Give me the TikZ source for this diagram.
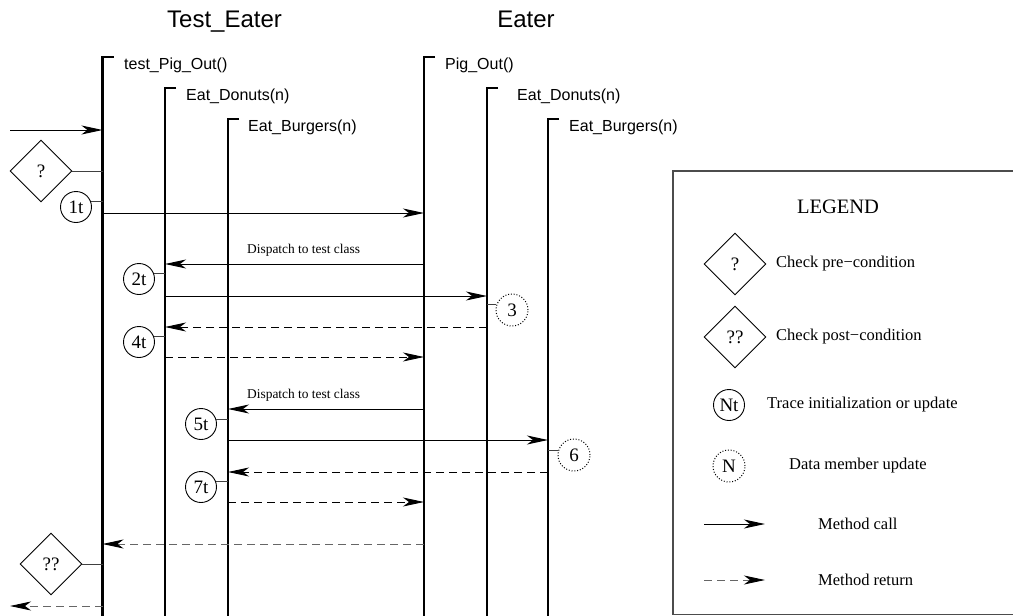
\documentclass[tikz,border=0pt]{standalone}
\usepackage{fontspec}
\setmainfont{Liberation Serif}
\setsansfont{Liberation Sans}
\usetikzlibrary{arrows.meta,shapes.geometric,calc}

\tikzset{
  x=1pt, y=-1pt,
  life/.style={line width=2.2pt, line join=miter, line cap=butt},
  tip/.style={-{Stealth[length=21pt,width=9pt,inset=6pt]}},
  call/.style={tip, line width=1pt},
  ret/.style={tip, line width=0.9pt, dash pattern=on 8pt off 5pt},
  retgray/.style={ret, draw=black!60, -{Stealth[length=21pt,width=9pt,inset=6pt,fill=black,color=black]}},
  link/.style={line width=0.9pt, draw=black!75},
  trace/.style={circle, draw, line width=0.9pt, minimum size=31pt, inner sep=0pt,
    font=\fontsize{19}{22}\selectfont},
  datum/.style={circle, draw, line width=1pt, dash pattern=on 1pt off 1.8pt,
    minimum size=32pt, inner sep=0pt, font=\fontsize{19}{22}\selectfont},
  check/.style={diamond, draw, line width=0.9pt, minimum width=62pt, minimum height=62pt,
    inner sep=0pt, font=\fontsize{19}{22}\selectfont},
  title/.style={anchor=base, inner sep=0pt, font=\sffamily\fontsize{24}{28}\selectfont},
  method/.style={anchor=base west, inner sep=0pt, font=\sffamily\fontsize{16}{19}\selectfont},
  note/.style={anchor=west, inner sep=0pt, font=\fontsize{13.4}{16}\selectfont},
  legtext/.style={anchor=west, inner sep=0pt, font=\fontsize{16.5}{20}\selectfont},
}

\begin{document}
\begin{tikzpicture}
\useasboundingbox (0,0) rectangle (1013,616);

% class titles
\node[title] (ttest) at (224.5,27) {Test\_Eater};
\node[title] (teater) at (526,27) {Eater};

% lifeline tops
\coordinate (tP) at (102.5,57);
\coordinate (tD) at (165,88);
\coordinate (tB) at (228,119);
\coordinate (eP) at (424,57);
\coordinate (eD) at (487,88);
\coordinate (eB) at (548,119);

% lifelines with their top ticks
\foreach \c in {tP,tD,tB,eP,eD,eB}{
  \draw[life] ($(\c)+(11,0)$) -- (\c) -- (\c |- 0,625);
}

% method names
\node[method] (ntP) at (124,69) {test\_Pig\_Out()};
\node[method] (ntD) at (186,100) {Eat\_Donuts(n)};
\node[method] (ntB) at (248,131) {Eat\_Burgers(n)};
\node[method] (neP) at (445,69) {Pig\_Out()};
\node[method] (neD) at (517,100) {Eat\_Donuts(n)};
\node[method] (neB) at (569,131) {Eat\_Burgers(n)};

% incoming call and pre-condition
\coordinate (in) at (10,130);
\draw[call] (in) -- (tP |- in);
\node[check] (pre) at (41,171) {?};
\draw[link] (pre.east) -- (tP |- pre.east);

% trace 1t and call to Pig_Out
\node[trace] (c1) at (76,207) {1t};
\draw[link] (c1.19) -- (tP |- c1.19);
\draw[call] (tP |- 0,213) -- (eP |- 0,213);

% dispatch to test Eat_Donuts
\draw[call] (eP |- 0,264) -- (tD |- 0,264);
\node[note] (dsp1) at (247,250) {Dispatch to test class};
\node[trace] (c2) at (139,279) {2t};
\draw[link] (c2.19) -- (tD |- c2.19);
\draw[call] (tD |- 0,296) -- (eD |- 0,296);
\node[datum] (c3) at (512,310) {3};
\draw[link] (c3.161) -- (eD |- c3.161);
\draw[ret] (eD |- 0,327) -- (tD |- 0,327);
\node[trace] (c4) at (139,342) {4t};
\draw[link] (c4.19) -- (tD |- c4.19);
\draw[ret] (tD |- 0,357) -- (eP |- 0,357);

% dispatch to test Eat_Burgers
\draw[call] (eP |- 0,409) -- (tB |- 0,409);
\node[note] (dsp2) at (247,395) {Dispatch to test class};
\node[trace] (c5) at (201,424) {5t};
\draw[link] (c5.16) -- (tB |- c5.16);
\draw[call] (tB |- 0,440) -- (eB |- 0,440);
\node[datum] (c6) at (574,455) {6};
\draw[link] (c6.165) -- (eB |- c6.165);
\draw[ret] (eB |- 0,472) -- (tB |- 0,472);
\node[trace] (c7) at (201,487) {7t};
\draw[link] (c7.19) -- (tB |- c7.19);
\draw[ret] (tB |- 0,502) -- (eP |- 0,502);

% return from Pig_Out, post-condition, return to caller
\draw[retgray] (eP |- 0,544) -- (tP |- 0,544);
\node[check] (post) at (51,564) {??};
\draw[link] (post.east) -- (tP |- post.east);
\coordinate (out) at (10,606);
\draw[retgray] (tP |- out) -- (out);

% legend
\draw[line width=1.2pt, draw=black!70] (673,171) rectangle (1030,614.5);
\node[font=\fontsize{20.5}{24}\selectfont] (leg) at (838,207) {LEGEND};
\node[check] (lpre) at (735,264) {?};
\node[legtext] (tpre) at (776,264) {Check pre\textminus condition};
\node[check] (lpost) at (735,337) {??};
\node[legtext] (tpost) at (776,337) {Check post\textminus condition};
\node[trace] (ltr) at (729,405) {Nt};
\node[legtext] (ttr) at (767,405) {Trace initialization or update};
\node[datum] (ldm) at (729,466) {N};
\node[legtext] (tdm) at (789,466) {Data member update};
\coordinate (lc1) at (704,524);
\coordinate (lc2) at (765,524);
\draw[call] (lc1) -- (lc2);
\node[legtext] (tcall) at (818,524) {Method call};
\coordinate (lr1) at (704,580);
\coordinate (lr2) at (765,580);
\draw[retgray] (lr1) -- (lr2);
\node[legtext] (tret) at (818,580) {Method return};
\end{tikzpicture}
\end{document}
